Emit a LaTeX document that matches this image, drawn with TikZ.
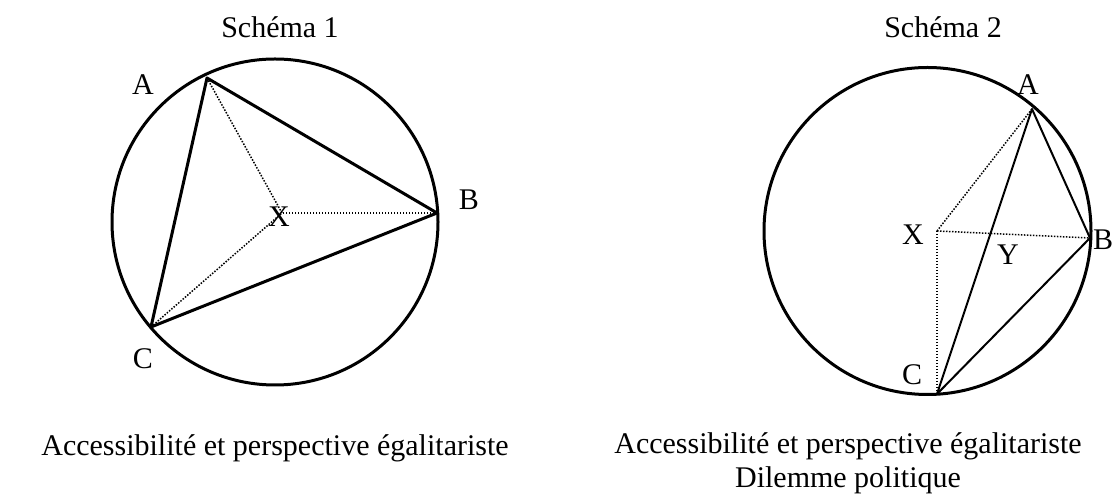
\documentclass[tikz,border=0pt]{standalone}
\usepackage{fontspec}
\setmainfont{Liberation Serif}
\begin{document}
\begin{tikzpicture}[x=0.5pt,y=-0.5pt,
  txt/.style={inner sep=0pt,font=\fontsize{15}{17}\selectfont},
  rim/.style={line width=1.5pt},
  side/.style={line width=1.5pt,line join=round},
  thinside/.style={line width=1pt,line join=round},
  ray/.style={line width=0.75pt,dash pattern=on 0.75pt off 0.75pt}]
 \useasboundingbox (0,0) rectangle (1115,501);

 % schema 1
 \node[txt] (title1) at (280,27) {Schéma 1};
 \coordinate (o1) at (275,222);
 \coordinate (a1) at (207,78);
 \coordinate (b1) at (437,213);
 \coordinate (c1) at (151,327);
 \coordinate (x1) at (282,213);
 \draw[rim] (o1) circle[radius=81.5pt];
 \draw[ray] (a1) -- (x1);
 \draw[ray] (b1) -- (x1);
 \draw[ray] (c1) -- (x1);
 \draw[side] (a1) -- (b1) -- (c1) -- cycle;
 \node[txt] (la1) at (143,85) {A};
 \node[txt] (lb1) at (469,200) {B};
 \node[txt] (lc1) at (143,359) {C};
 \node[txt] (lx1) at (279,217) {X};
 \node[txt] (cap1) at (275,448) {Accessibilité et perspective égalitariste};

 % schema 2
 \node[txt] (title2) at (943,27) {Schéma 2};
 \coordinate (o2) at (927.5,231);
 \coordinate (a2) at (1032,109);
 \coordinate (b2) at (1090,238);
 \coordinate (c2) at (937,394);
 \coordinate (x2) at (937,231);
 \draw[rim] (o2) circle[radius=81.75pt];
 \draw[ray] (x2) -- (a2);
 \draw[ray] (x2) -- (b2);
 \draw[ray] (x2) -- (c2);
 \draw[thinside] (a2) -- (b2) -- (c2) -- cycle;
 \node[txt] (la2) at (1028,85) {A};
 \node[txt] (lb2) at (1103,240) {B};
 \node[txt] (lc2) at (912,375) {C};
 \node[txt] (lx2) at (913,235) {X};
 \node[txt] (ly2) at (1008,255) {Y};
 \node[txt,align=center] (cap2) at (848,463) {Accessibilité et perspective égalitariste\\Dilemme politique};
\end{tikzpicture}
\end{document}
